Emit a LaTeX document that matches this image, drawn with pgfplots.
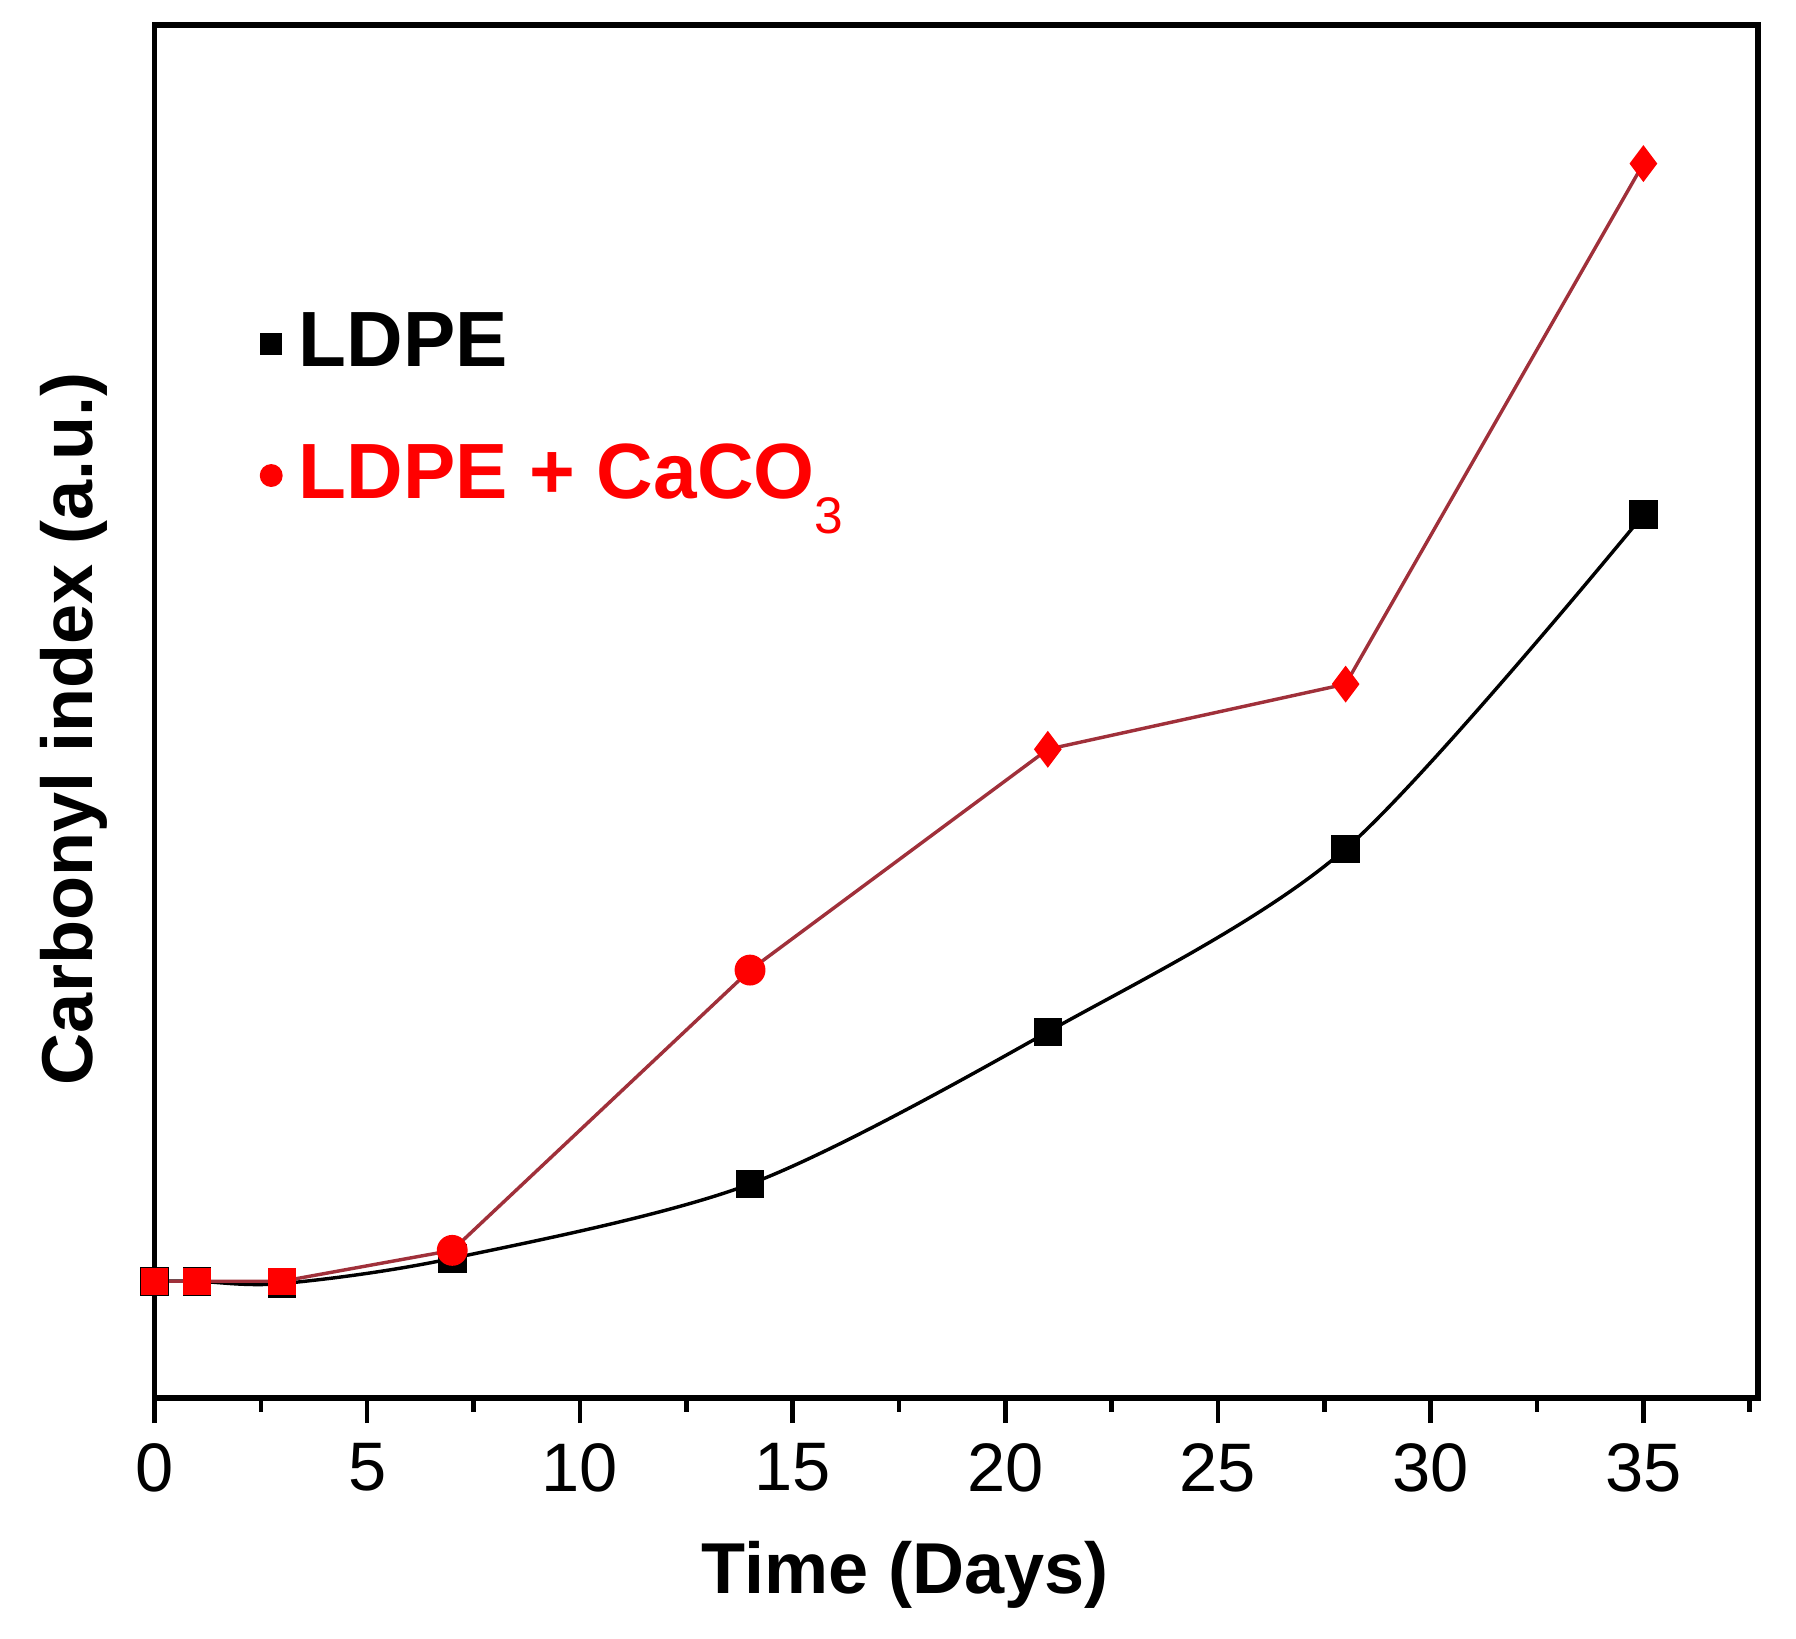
\documentclass[border=0pt]{standalone}
\usepackage{pgfplots}
\pgfplotsset{compat=1.18}
\usepackage{fontspec}
\setmainfont{Liberation Sans}
\definecolor{linered}{HTML}{A0303A}
\definecolor{markred}{HTML}{FF0000}

\begin{document}
\begin{tikzpicture}
\begin{axis}[
  scale only axis,
  width=280.4pt, height=240pt,
  xmin=0, xmax=37.7, ymin=0, ymax=12,
  axis line style={line width=1pt},
  xtick={0,5,...,35},
  minor xtick={2.5,7.5,...,37.5},
  ytick=\empty,
  xtick pos=bottom, tick align=outside,
  major tick length=4.4pt, minor tick length=2.4pt,
  every tick/.style={black, line width=0.8pt},
  tick label style={font=\fontsize{12}{12}\selectfont},
  /pgf/number format/assume math mode=true,
  xlabel={\textbf{Time (Days)}},
  ylabel={\textbf{Carbonyl index (a.u.)}},
  label style={font=\fontsize{12.6}{13}\selectfont},
  xlabel style={at={(axis description cs:0.468,0)}, anchor=center, yshift=-31pt},
  ylabel style={at={(axis description cs:0,0.4875)}, anchor=center, rotate=0, yshift=14pt},
  legend style={at={(axis description cs:0.055,0.808)}, anchor=north west,
    draw=none, fill=none, font=\fontsize{13.7}{14}\selectfont\bfseries,
    row sep=8pt, column sep=1pt},
  legend cell align=left,
]
% LDPE
\addplot[black, line width=0.6pt, smooth, mark=square*, mark size=2.2pt, forget plot]
  coordinates {(0,1.02) (1,1.02) (3,1.00) (7,1.22) (14,1.87) (21,3.20) (28,4.80) (35,7.72)};
% LDPE + CaCO3 line
\addplot[linered, line width=0.6pt, forget plot]
  coordinates {(0,1.02) (1,1.02) (3,1.02) (7,1.29) (14,3.74) (21,5.67) (28,6.24) (35,10.79)};
\addplot[only marks, mark=square*, mark size=2.2pt, markred, forget plot]
  coordinates {(0,1.02) (1,1.02) (3,1.02)};
\addplot[only marks, mark=*, mark size=2.5pt, markred, forget plot]
  coordinates {(7,1.29) (14,3.74)};
\addplot[only marks, mark=diamond*, mark size=2.9pt, markred, forget plot]
  coordinates {(21,5.67) (28,6.24) (35,10.79)};

\addlegendimage{only marks, mark=square*, mark size=1.7pt, black}
\addlegendentry{LDPE}
\addlegendimage{only marks, mark=*, mark size=1.8pt, markred}
\addlegendentry{\textcolor{markred}{LDPE + CaCO\raisebox{-0.45em}{\fontsize{9}{9}\selectfont\mdseries 3}}}
\end{axis}
\pgfresetboundingbox
\path[use as bounding box] ([shift={(-27pt,-42pt)}]current axis.south west)
  rectangle ([shift={(6.6pt,4.4pt)}]current axis.north east);
\end{tikzpicture}
\end{document}
